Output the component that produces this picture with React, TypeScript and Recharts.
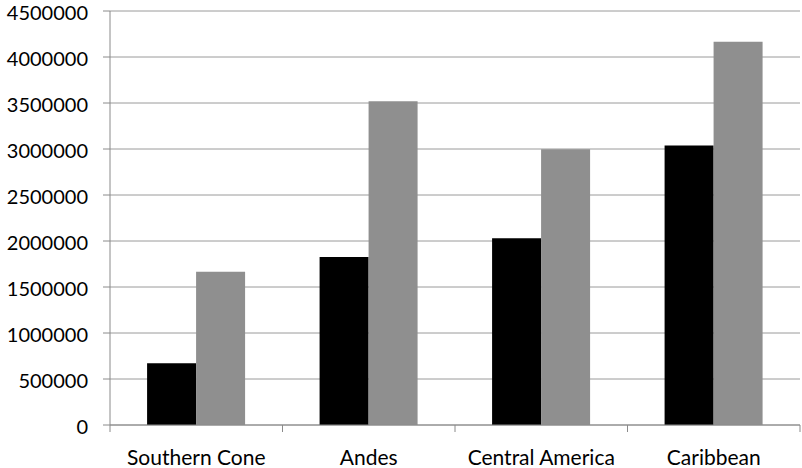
import React from "react";
import { BarChart, Bar, XAxis, YAxis, CartesianGrid } from "recharts";

const categories = ["Southern Cone", "Andes", "Central America", "Caribbean"];
const seriesA = [670000, 1825000, 2030000, 3037000];
const seriesB = [1665000, 3520000, 2998000, 4167000];
const yTicks = [0, 500000, 1000000, 1500000, 2000000, 2500000, 3000000, 3500000, 4000000, 4500000];

const data = categories.map((c, i) => ({ name: c, a: seriesA[i], b: seriesB[i] }));

const W = 802;
const H = 468;
const LEFT = 110;
const RIGHT = 2;
const BAND = (W - LEFT - RIGHT) / categories.length;
const FONT = "Lato, 'Open Sans', sans-serif";
const AXIS = "#8a8a8a";

const XTick = (props: any) => {
  const { x, y, payload, index } = props;
  const left = x - BAND / 2;
  return (
    <g>
      <line x1={left} y1={y} x2={left} y2={y + 7} stroke={AXIS} strokeWidth={1} />
      {index === categories.length - 1 && (
        <line x1={x + BAND / 2} y1={y} x2={x + BAND / 2} y2={y + 7} stroke={AXIS} strokeWidth={1} />
      )}
      <text x={x} y={y + 40} textAnchor="middle" fontFamily={FONT} fontSize={21} fill="#000">
        {payload.value}
      </text>
    </g>
  );
};

const YTick = (props: any) => {
  const { x, y, payload } = props;
  return (
    <text x={x} y={y + 9} textAnchor="end" fontFamily={FONT} fontSize={20} fill="#000">
      {payload.value}
    </text>
  );
};

export default function App() {
  return (
    <div style={{ position: "absolute", left: 0, top: 0, background: "#fff" }}>
      <BarChart
        width={W}
        height={H}
        data={data}
        margin={{ top: 11, right: RIGHT, bottom: 0, left: 0 }}
        barCategoryGap="21.5%"
        barGap={0}
      >
        <CartesianGrid vertical={false} stroke="#9a9a9a" strokeWidth={1} />
        <XAxis
          dataKey="name"
          height={43}
          tickSize={0}
          tickMargin={0}
          tickLine={false}
          axisLine={{ stroke: AXIS }}
          tick={<XTick />}
          interval={0}
        />
        <YAxis
          width={LEFT}
          domain={[0, 4500000]}
          ticks={yTicks}
          interval={0}
          tickSize={7}
          tickMargin={15}
          axisLine={{ stroke: AXIS }}
          tickLine={{ stroke: AXIS }}
          tick={<YTick />}
        />
        <Bar dataKey="a" fill="#000000" isAnimationActive={false} />
        <Bar dataKey="b" fill="#8f8f8f" isAnimationActive={false} />
      </BarChart>
    </div>
  );
}
